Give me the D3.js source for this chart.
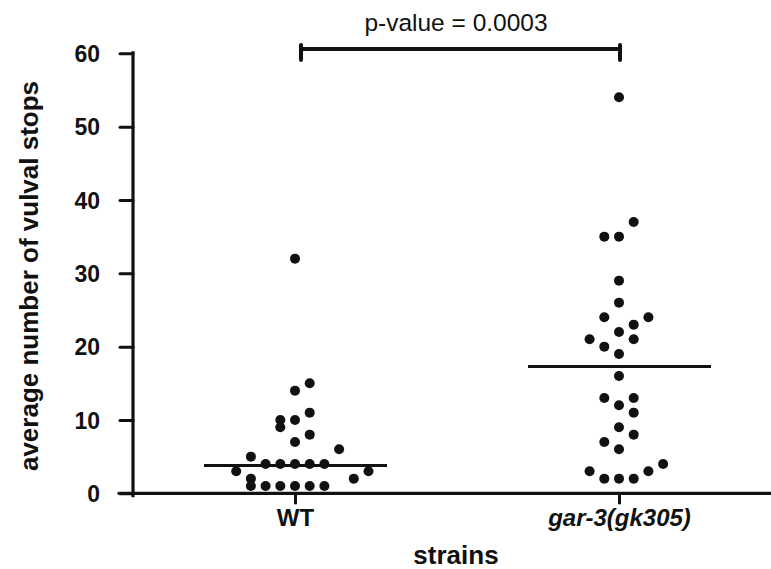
<!DOCTYPE html>
<html>
<head>
<meta charset="utf-8">
<script src="https://cdn.jsdelivr.net/npm/d3@7"></script>
<style>
    html, body { margin: 0; padding: 0; background: #fff; }
    #chart { width: 771px; height: 569px; }
    text { font-family: "Liberation Sans", Arial, Helvetica, sans-serif; fill: #111; }
</style>
</head>
<body>
<div id="chart"></div>
<script>
// Vulval stops per strain: dot plot with a centre line per group and a
// significance bracket on top.
var categories = ['WT', 'gar-3(gk305)'];

// One dot per animal; slot = horizontal column of the dot
var wtValues = [32, 15, 14, 11, 10, 10, 9, 8, 7, 6, 5,
    4, 4, 4, 4, 4, 3, 3, 2, 2, 1, 1, 1, 1, 1, 1];
var wtSlots = [0, 1, 0, 1, -1, 0, -1, 1, 0, 3, -3,
    -2, -1, 0, 1, 2, -4, 5, -3, 4, -3, -2, -1, 0, 1, 2];

var garValues = [54, 37, 35, 35, 29, 26, 24, 24, 23, 22, 21, 21, 20, 19, 16,
    13, 13, 12, 11, 9, 8, 7, 6, 4, 3, 3, 2, 2, 2];
var garSlots = [0, 1, -1, 0, 0, 0, -1, 2, 1, 0, -2, 1, -1, 0, 0,
    -1, 1, 0, 1, 0, 1, -1, 0, 3, -2, 2, -1, 0, 1];

var centerLines = [3.8, 17.3];
var yTicks = [0, 10, 20, 30, 40, 50, 60];
var pValueLabel = 'p-value = 0.0003';
var xTitle = 'strains';
var yTitle = 'average number of vulval stops';

(function () {
    var W = 771, H = 569;
    var ink = '#111';

    var svg = d3.select('#chart').append('svg')
        .attr('width', W).attr('height', H)
        .attr('viewBox', '0 0 ' + W + ' ' + H);

    var x = d3.scalePoint().domain(categories).range([133, 781]).padding(0.5);
    var y = d3.scaleLinear().domain([0, 60]).range([493.3, 53.3]);
    var slot = d3.scaleLinear().domain([0, 1]).range([0, 14.7]);

    var groups = [
        { cat: categories[0], values: wtValues, slots: wtSlots, center: centerLines[0] },
        { cat: categories[1], values: garValues, slots: garSlots, center: centerLines[1] }
    ];

    // Y axis
    var yAxisG = svg.append('g')
        .attr('transform', 'translate(133,0)')
        .call(d3.axisLeft(y).tickValues(yTicks).tickSize(13).tickPadding(20).tickSizeOuter(0));
    yAxisG.select('.domain').remove();
    yAxisG.selectAll('.tick line').attr('stroke', ink).attr('stroke-width', 3)
        .attr('stroke-linecap', 'round');
    yAxisG.selectAll('.tick text')
        .style('font-size', '23px').style('font-weight', 'bold')
        .attr('dy', '0.36em');
    svg.append('line')
        .attr('x1', 133).attr('x2', 133)
        .attr('y1', y(60) - 2).attr('y2', y(0) + 4)
        .attr('stroke', ink).attr('stroke-width', 3.2);

    // X axis
    var xAxisG = svg.append('g')
        .attr('transform', 'translate(0,' + y(0) + ')')
        .call(d3.axisBottom(x).tickSize(11).tickPadding(5).tickSizeOuter(0));
    xAxisG.select('.domain').remove();
    xAxisG.selectAll('.tick line').attr('stroke', ink).attr('stroke-width', 3);
    xAxisG.selectAll('.tick text')
        .style('font-size', '24px').style('font-weight', 'bold')
        .style('font-style', function (d, i) { return i === 1 ? 'italic' : 'normal'; });
    svg.append('line')
        .attr('x1', 119).attr('x2', W)
        .attr('y1', y(0)).attr('y2', y(0))
        .attr('stroke', ink).attr('stroke-width', 3.2)
        .attr('stroke-linecap', 'round');

    // Centre lines
    svg.selectAll('line.center')
        .data(groups).enter().append('line')
        .attr('class', 'center')
        .attr('x1', function (d) { return x(d.cat) - 91; })
        .attr('x2', function (d) { return x(d.cat) + 92; })
        .attr('y1', function (d) { return y(d.center); })
        .attr('y2', function (d) { return y(d.center); })
        .attr('stroke', ink).attr('stroke-width', 3);

    // Dots
    groups.forEach(function (g) {
        svg.append('g').selectAll('circle')
            .data(g.values).enter().append('circle')
            .attr('cx', function (v, i) { return x(g.cat) + slot(g.slots[i]); })
            .attr('cy', function (v) { return y(v); })
            .attr('r', 5)
            .attr('fill', ink);
    });

    // Significance bracket
    var bx0 = x(categories[0]) + 6, bx1 = x(categories[1]) + 1, by = 49;
    svg.append('path')
        .attr('d', 'M' + bx0 + ',' + (by + 11) + 'V' + (by - 4) + 'M' + bx0 + ',' + by +
            'H' + bx1 + 'M' + bx1 + ',' + (by - 4) + 'V' + (by + 11))
        .attr('fill', 'none').attr('stroke', ink).attr('stroke-width', 4)
        .attr('stroke-linecap', 'round');
    svg.append('text')
        .attr('x', 456).attr('y', 31)
        .attr('text-anchor', 'middle')
        .style('font-size', '24.5px')
        .text(pValueLabel);

    // Axis titles
    svg.append('text')
        .attr('x', 456).attr('y', 564)
        .attr('text-anchor', 'middle')
        .style('font-size', '26px').style('font-weight', 'bold')
        .text(xTitle);
    svg.append('text')
        .attr('transform', 'translate(38,276) rotate(-90)')
        .attr('text-anchor', 'middle')
        .style('font-size', '26px').style('font-weight', 'bold')
        .text(yTitle);
})();
</script>
</body>
</html>
